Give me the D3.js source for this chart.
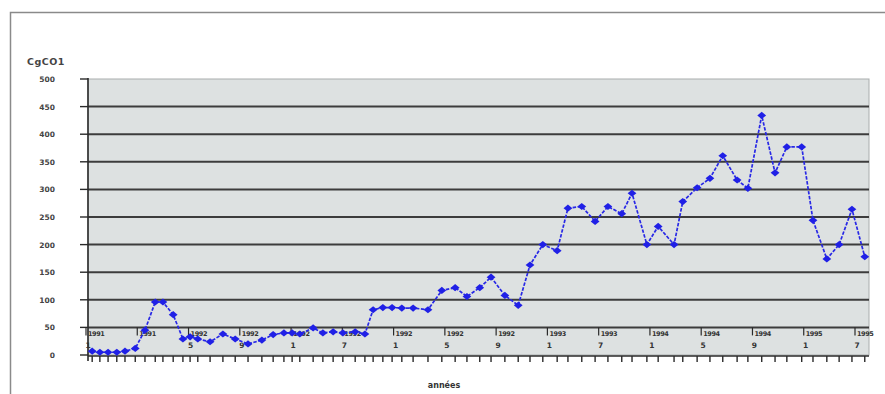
<!DOCTYPE html>
<html>
<head>
<meta charset="utf-8">
<script src="https://cdn.jsdelivr.net/npm/d3@7/dist/d3.min.js"></script>
<style>
  html, body { margin: 0; padding: 0; background: #fff; }
  svg { display: block; }
  text { font-family: "DejaVu Sans", Arial, sans-serif; }
</style>
</head>
<body>
<svg id="chart" width="885" height="394"></svg>
<script>
// Sampling position of each measurement, in label intervals from the first axis label
const periods = [0.14, 0.29, 0.45, 0.62, 0.78, 0.98, 1.17, 1.37, 1.52, 1.72,
                 1.91, 2.05, 2.20, 2.44, 2.69, 2.93, 3.18, 3.45, 3.67, 3.88,
                 4.04, 4.19, 4.45, 4.64, 4.84, 5.03, 5.27, 5.46, 5.62, 5.81,
                 5.99, 6.18, 6.40, 6.69, 6.96, 7.22, 7.45, 7.70, 7.92, 8.19,
                 8.45, 8.68, 8.93, 9.21, 9.42, 9.69, 9.95, 10.20, 10.47, 10.67,
                 10.96, 11.18, 11.49, 11.66, 11.94, 12.19, 12.44, 12.72, 12.93, 13.20,
                 13.46, 13.69, 13.98, 14.20, 14.47, 14.71, 14.96, 15.21];

// CgCO1 values
const values = [7, 5, 5, 5, 7, 12, 45, 96, 96, 73,
                29, 33, 29, 24, 38, 29, 20, 27, 37, 40,
                40, 38, 49, 40, 42, 40, 42, 38, 82, 86,
                86, 85, 85, 82, 117, 122, 106, 122, 141, 108,
                90, 163, 200, 189, 266, 269, 242, 269, 256, 293,
                200, 233, 200, 278, 303, 320, 361, 317, 302, 434,
                330, 377, 377, 244, 174, 200, 264, 178];

const yTicks = [0, 50, 100, 150, 200, 250, 300, 350, 400, 450, 500];
const yearLabels = ["1991", "1991", "1992", "1992", "1992", "1992", "1992", "1992",
                    "1992", "1993", "1993", "1994", "1994", "1994", "1995", "1995"];
const monthLabels = ["1", "", "5", "9", "1", "7", "1", "5",
                     "9", "1", "7", "1", "5", "9", "1", "7"];

const svg = d3.select("#chart");

// Plot frame (layout)
const plot = { left: 88, right: 869, top: 79, bottom: 355 };

const x = d3.scaleLinear().domain([0, 15]).range([85, 854]);
const y = d3.scaleLinear().domain([0, 500]).range([plot.bottom, plot.top]);

// Outer chart border (top and left edges)
svg.append("path")
  .attr("d", "M10.5,394 V12.5 H885")
  .attr("fill", "none")
  .attr("stroke", "#8a8a8a")
  .attr("stroke-width", 1.5);

// Plot area background
svg.append("rect")
  .attr("x", plot.left).attr("y", plot.top)
  .attr("width", plot.right - plot.left)
  .attr("height", plot.bottom - plot.top)
  .attr("fill", "#dde1e1")
  .attr("stroke", "#a9adad")
  .attr("stroke-width", 1);

// Horizontal gridlines
svg.append("g")
  .selectAll("line")
  .data(yTicks.filter(d => d > 0 && d < 500))
  .join("line")
  .attr("x1", plot.left).attr("x2", plot.right)
  .attr("y1", d => y(d)).attr("y2", d => y(d))
  .attr("stroke", "#3c3c3c")
  .attr("stroke-width", 2);

// Y axis
const yAxis = svg.append("g");
yAxis.append("line")
  .attr("x1", plot.left).attr("x2", plot.left)
  .attr("y1", plot.top - 1).attr("y2", plot.bottom + 6)
  .attr("stroke", "#2a2a2a").attr("stroke-width", 1.6);
yAxis.selectAll("line.tick")
  .data(yTicks)
  .join("line")
  .attr("class", "tick")
  .attr("x1", plot.left - 8).attr("x2", plot.left)
  .attr("y1", d => y(d)).attr("y2", d => y(d))
  .attr("stroke", "#2a2a2a").attr("stroke-width", 1.4);
yAxis.selectAll("text")
  .data(yTicks)
  .join("text")
  .attr("x", 55)
  .attr("y", d => y(d) + 3)
  .attr("text-anchor", "end")
  .attr("font-size", 7.5)
  .attr("font-weight", "bold")
  .attr("fill", "#444")
  .text(d => d);

// Y axis title
svg.append("text")
  .attr("x", 27).attr("y", 65)
  .attr("font-size", 9.5)
  .attr("font-weight", "bold")
  .attr("letter-spacing", 0.5)
  .attr("fill", "#444")
  .text("CgCO1");

// Bottom axis line with one tick per measurement
svg.append("line")
  .attr("x1", plot.left).attr("x2", plot.right)
  .attr("y1", plot.bottom + 1).attr("y2", plot.bottom + 1)
  .attr("stroke", "#2a2a2a").attr("stroke-width", 1.6);
svg.append("g")
  .selectAll("line")
  .data(periods)
  .join("line")
  .attr("x1", d => x(d)).attr("x2", d => x(d))
  .attr("y1", plot.bottom + 1).attr("y2", plot.bottom + 7)
  .attr("stroke", "#2a2a2a").attr("stroke-width", 1.4);

// Category labels hanging from the 50 line
const labelIdx = d3.range(yearLabels.length);
const lab = svg.append("g");
lab.selectAll("line")
  .data(labelIdx)
  .join("line")
  .attr("x1", d => x(d) + 1).attr("x2", d => x(d) + 1)
  .attr("y1", y(50)).attr("y2", y(50) + 8)
  .attr("stroke", "#2a2a2a").attr("stroke-width", 1.2);
lab.selectAll("text.year")
  .data(labelIdx)
  .join("text")
  .attr("class", "year")
  .attr("x", d => x(d) + 3)
  .attr("y", y(50) + 9)
  .attr("font-size", 6.5)
  .attr("font-weight", "bold")
  .attr("letter-spacing", -0.4)
  .attr("fill", "#333")
  .text(d => yearLabels[d]);
lab.selectAll("text.month")
  .data(labelIdx)
  .join("text")
  .attr("class", "month")
  .attr("x", d => x(d) + 3)
  .attr("y", y(50) + 21)
  .attr("text-anchor", "middle")
  .attr("font-size", 7.5)
  .attr("font-weight", "bold")
  .attr("fill", "#333")
  .text(d => monthLabels[d]);

// X axis title
svg.append("text")
  .attr("x", 444).attr("y", 388)
  .attr("text-anchor", "middle")
  .attr("font-size", 8)
  .attr("font-weight", "bold")
  .attr("fill", "#333")
  .text("années");

// Series line
const pts = periods.map((p, i) => [p, values[i]]);
svg.append("path")
  .datum(pts)
  .attr("fill", "none")
  .attr("stroke", "#2828e6")
  .attr("stroke-width", 1.7)
  .attr("stroke-dasharray", "3.5,1.5")
  .attr("d", d3.line().x(d => x(d[0])).y(d => y(d[1])));

// Diamond markers
svg.append("g")
  .selectAll("path")
  .data(pts)
  .join("path")
  .attr("transform", d => `translate(${x(d[0])},${y(d[1])})`)
  .attr("d", "M0,-3.6 L4.4,0 L0,3.6 L-4.4,0 Z")
  .attr("fill", "#2020e6");
</script>
</body>
</html>
